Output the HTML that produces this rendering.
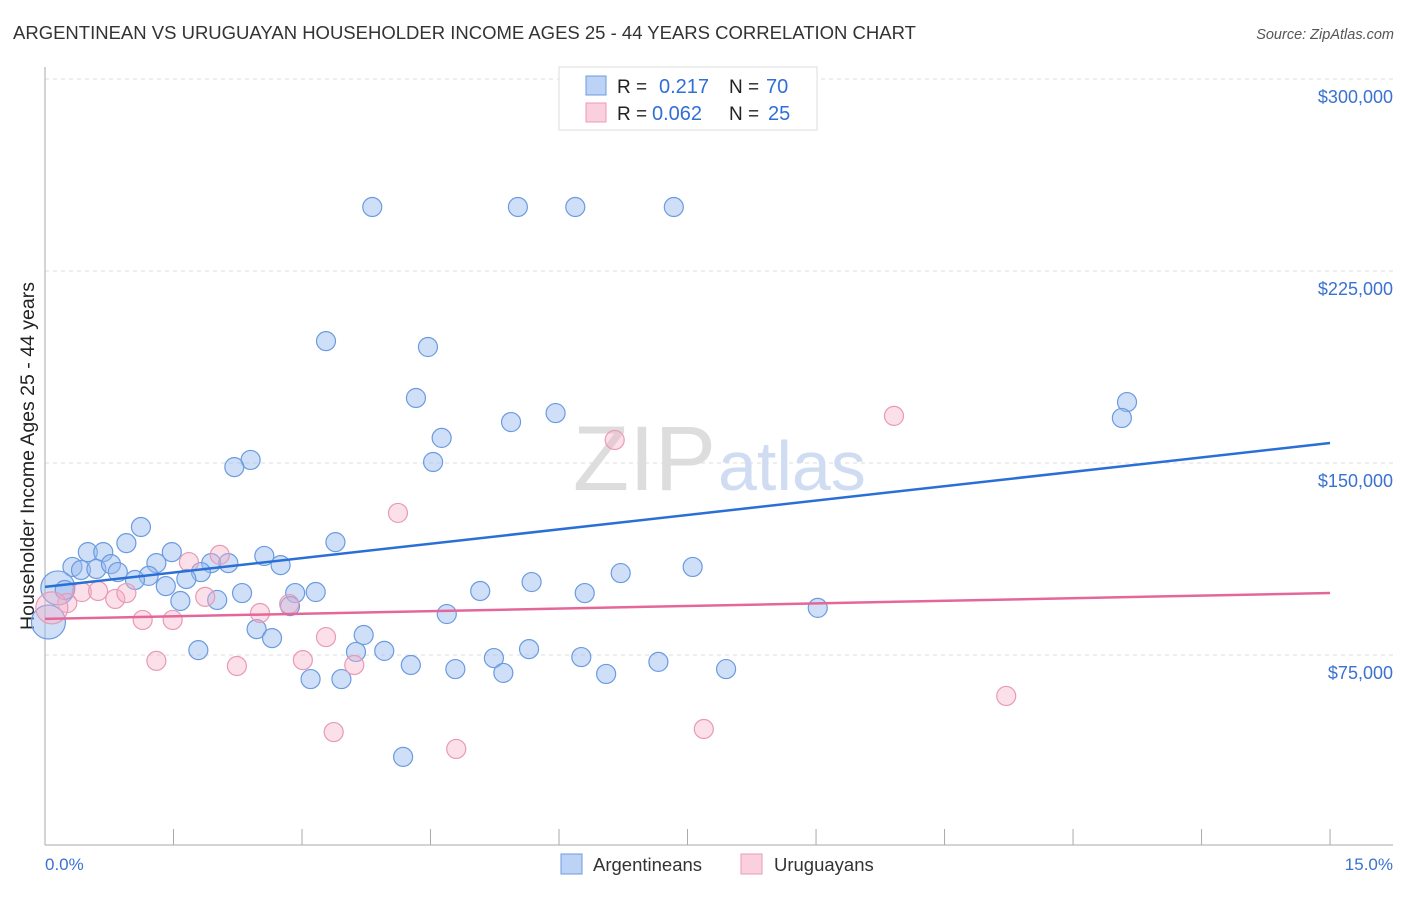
<!DOCTYPE html>
<html><head><meta charset="utf-8"><style>
body{margin:0;background:#fff;font-family:"Liberation Sans",sans-serif}
svg text{font-family:"Liberation Sans",sans-serif}
</style></head><body>
<svg width="1406" height="892" viewBox="0 0 1406 892">
<text x="13" y="39" font-size="18.5" fill="#333">ARGENTINEAN VS URUGUAYAN HOUSEHOLDER INCOME AGES 25 - 44 YEARS CORRELATION CHART</text>
<text x="1394" y="39" font-size="14.5" fill="#555" text-anchor="end" font-style="italic">Source: ZipAtlas.com</text>
<g id="grid"></g>
<text x="716" y="490" font-size="92" fill="#ddd" text-anchor="end" font-family="Liberation Serif">ZIP</text>
<text x="718" y="490" font-size="70" fill="#cfdcf2">atlas</text>
<text x="34" y="456" font-size="19.5" fill="#222" text-anchor="middle" transform="rotate(-90 34 456)">Householder Income Ages 25 - 44 years</text>
<g id="pts"></g>
<g id="lines"></g>
<text x="45" y="870" font-size="17" fill="#3a72d0">0.0%</text>
<text x="1393" y="870" font-size="17" fill="#3a72d0" text-anchor="end">15.0%</text>
<g>
<rect x="559" y="67" width="258" height="63" fill="#fff" stroke="#ddd"/>
<rect x="586" y="76" width="20" height="19" fill="#bcd3f5" stroke="#6a9be0"/>
<rect x="586" y="103" width="20" height="19" fill="#fbd0de" stroke="#e89ab5"/>
<text x="617" y="93" font-size="19" fill="#222">R =</text>
<text x="659" y="93" font-size="20" fill="#2f6fd6">0.217</text>
<text x="729" y="93" font-size="19" fill="#222">N =</text>
<text x="766" y="93" font-size="20" fill="#2f6fd6">70</text>
<text x="617" y="120" font-size="19" fill="#222">R =</text>
<text x="652" y="120" font-size="20" fill="#2f6fd6">0.062</text>
<text x="729" y="120" font-size="19" fill="#222">N =</text>
<text x="768" y="120" font-size="20" fill="#2f6fd6">25</text>
</g>
<g>
<rect x="561" y="854" width="21" height="20" fill="#bcd3f5" stroke="#6a9be0"/>
<text x="593" y="871" font-size="18.5" fill="#333">Argentineans</text>
<rect x="741" y="854" width="21" height="20" fill="#fbd0de" stroke="#e89ab5"/>
<text x="774" y="871" font-size="18.5" fill="#333">Uruguayans</text>
</g>
</svg>
<script>
const yTicks=[75,150,225,300];
const yTickLabels=["$75,000","$150,000","$225,000","$300,000"];
const xTicks=[0,1.5,3,4.5,6,7.5,9,10.5,12,13.5,15];
const argX=[3.82,5.52,6.19,7.34,3.28,4.47,4.33,12.63,12.57,5.44,5.96,4.63,4.53,2.40,2.21,1.12,3.39,0.95,0.50,0.68,1.48,2.56,0.32,0.42,0.60,0.77,1.30,1.94,2.14,2.75,7.56,6.72,0.85,1.21,1.82,1.05,1.65,5.68,1.41,0.15,0.23,5.08,2.30,2.92,3.16,6.30,1.58,2.01,2.86,9.02,4.69,0.04,2.47,2.65,3.72,1.79,3.63,3.96,5.65,5.24,6.26,7.16,4.27,4.79,7.95,5.35,6.55,3.10,3.46,4.18];
const argY=[250,250,250,250,197.6,195.3,175.4,173.8,167.6,166,169.5,159.8,150.4,151.2,148.4,125,119.1,118.7,115.2,115.2,115.2,113.7,109.4,108.2,108.6,110.5,110.9,110.9,110.9,110.1,109.4,107,107.4,105.9,107.4,104.3,104.7,103.5,101.9,101.2,100.4,100,99.2,99.2,99.6,99.2,96.1,96.5,94.1,93.4,91,87.9,85.1,81.6,82.8,76.9,76.2,76.6,77.3,73.8,74.2,72.3,71.1,69.5,69.5,68,67.6,65.6,65.6,35.2];
const argBig=[0.15,0.04];
const uruX=[9.91,6.65,4.12,1.68,2.04,0.26,0.43,0.62,0.82,0.95,1.87,2.51,2.85,1.14,1.49,0.08,3.28,1.30,2.24,3.01,3.61,11.22,3.37,4.80,7.69];
const uruY=[168.4,159,130.5,111.3,114.1,95.3,99.6,100,96.9,99.2,97.7,91.4,94.9,88.7,88.7,93.4,82,72.7,70.7,73,71.1,59,44.9,38.3,46.1];
const uruBig=[0.08];
const argTrend=[101.6,157.8];
const uruTrend=[89.1,99.2];
const NS="http://www.w3.org/2000/svg";
const xs=v=>45+v*85.67, ys=v=>847-v*2.56;
function mk(t,a,p){const e=document.createElementNS(NS,t);for(const k in a)e.setAttribute(k,a[k]);p.appendChild(e);return e;}
const grid=document.getElementById('grid');
yTicks.forEach((t,i)=>{
 const l=mk('line',{x1:45,x2:1393,y1:ys(t),y2:ys(t),stroke:'#ddd','stroke-dasharray':'4,4'},grid);
 
 
 const tx=mk('text',{x:1393,y:ys(t)+24,'font-size':18,fill:'#3a72d0','text-anchor':'end'},grid);
 tx.textContent=yTickLabels[i];
 
 
});
mk('line',{x1:45,x2:1393,y1:79,y2:79,stroke:'#ddd','stroke-dasharray':'4,4'},grid);
const ya=mk('line',{x1:45,x2:45,y1:67,y2:845,stroke:'#aaa'},grid);


const xa=mk('line',{x1:45,x2:1393,y1:845,y2:845,stroke:'#aaa'},grid);


xTicks.forEach(t=>{const l=mk('line',{x1:xs(t),x2:xs(t),y1:829,y2:845,stroke:'#aaa'},grid);
 
 });
const pts=document.getElementById('pts');
argX.forEach((x,i)=>{const big=argBig.includes(x);
 const c=mk('circle',{cx:xs(x),cy:ys(argY[i]),r:big?17:9.5,fill:'rgba(150,185,240,0.45)',stroke:'#6a9be0','stroke-width':1.2},pts);
 
 });
uruX.forEach((x,i)=>{const big=uruBig.includes(x);
 const c=mk('circle',{cx:xs(x),cy:ys(uruY[i]),r:big?16:9.5,fill:'rgba(245,175,200,0.4)',stroke:'#e89ab5','stroke-width':1.2},pts);
 
 });
const lines=document.getElementById('lines');
const bl=mk('line',{x1:xs(0),x2:xs(15),y1:ys(argTrend[0]),y2:ys(argTrend[1]),stroke:'#2a6fd6','stroke-width':2.5},lines);


const pl=mk('line',{x1:xs(0),x2:xs(15),y1:ys(uruTrend[0]),y2:ys(uruTrend[1]),stroke:'#e5679a','stroke-width':2.5},lines);


</script>
</body></html>
